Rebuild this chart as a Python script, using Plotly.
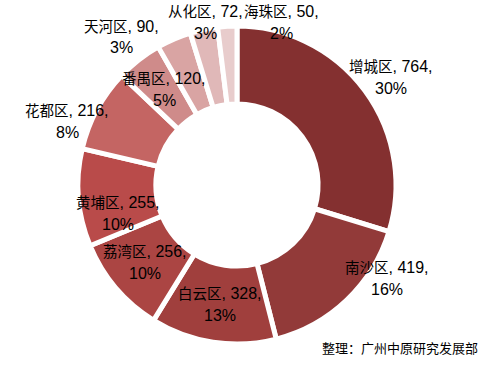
import plotly.graph_objects as go

districts = ["增城区", "南沙区", "白云区", "荔湾区", "黄埔区", "花都区", "番禺区", "天河区", "从化区", "海珠区"]
values = [764, 419, 328, 256, 255, 216, 120, 90, 72, 50]
pct_labels = ["30%", "16%", "13%", "10%", "10%", "8%", "5%", "3%", "3%", "2%"]
colors = ["#843030", "#923a39", "#a03f3d", "#ab4543", "#b94b4a",
          "#c46563", "#cf8b8a", "#d9a4a3", "#e0b8b8", "#e8cccc"]
# label centres in pixels (x, y from top)
label_px = [(391, 77), (387, 278), (220, 304), (145, 262), (118, 213),
            (67, 121), (164, 89), (121, 37), (205, 22), (281, 22)]
source_text = "整理：广州中原研究发展部"

W, H = 493, 367
cx, cy, r = 237, 185, 159

fig = go.Figure(go.Pie(
    labels=districts, values=values, sort=False, direction="clockwise",
    rotation=0, hole=0.51, textinfo="none",
    marker=dict(colors=colors, line=dict(color="white", width=5)),
    domain=dict(x=[(cx - r) / W, (cx + r) / W], y=[(H - cy - r) / H, (H - cy + r) / H]),
    showlegend=False,
))

FONT = "Liberation Sans, Arial, Noto Sans CJK SC"
ann = []
for name, v, p, (x, y) in zip(districts, values, pct_labels, label_px):
    ann.append(dict(x=x / W, y=1 - (y - 11) / H, xref="paper", yref="paper",
                    text=f"<span style='font-size:14.5px'>{name}</span>, {v},",
                    showarrow=False, xanchor="center", yanchor="middle",
                    font=dict(size=16, color="black", family=FONT)))
    ann.append(dict(x=x / W, y=1 - (y + 11) / H, xref="paper", yref="paper",
                    text=p, showarrow=False, xanchor="center", yanchor="middle",
                    font=dict(size=16, color="black", family=FONT)))
ann.append(dict(x=400 / W, y=1 - 348 / H, xref="paper", yref="paper", text=source_text,
                showarrow=False, xanchor="center", yanchor="middle",
                font=dict(size=13, color="black", family=FONT)))

fig.update_layout(width=W, height=H, margin=dict(l=0, r=0, t=0, b=0),
                  paper_bgcolor="white", plot_bgcolor="white", annotations=ann)
fig.write_html("out.html", config={"displayModeBar": False},
               post_script="document.body.style.margin='0';")
